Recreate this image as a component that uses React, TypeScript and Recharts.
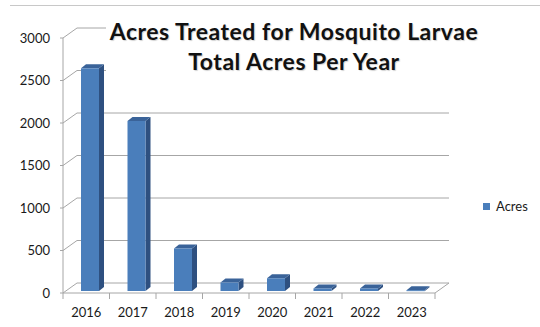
import { BarChart, Bar, XAxis, YAxis, CartesianGrid, Legend } from "recharts";

// Acres treated per year
const years = ["2016", "2017", "2018", "2019", "2020", "2021", "2022", "2023"];
const acres = [2620, 2000, 500, 100, 150, 30, 30, 10];
const yTicks = [0, 500, 1000, 1500, 2000, 2500, 3000];

const data = years.map((year, i) => ({ year, acres: acres[i] }));

const W = 540;
const H = 327;
const margin = { top: 38, right: 105, bottom: 0, left: 0 };
const Y_AXIS_W = 63;
const X_AXIS_H = 34;
const PLOT_BOTTOM = H - margin.bottom - X_AXIS_H;
const PLOT_W = W - margin.right - margin.left - Y_AXIS_W;
const BAND = PLOT_W / years.length;

// depth of the walls / floor
const DX = 14;
const DY = -10;
// bars sit part way into the floor and have their own depth
const BAR_SHIFT_X = 4;
const BAR_SHIFT_Y = -2;
const BAR_DX = 5;
const BAR_DY = -4;

const GRID = "#a6a6a6";
const FRONT = "#4A7EBB";
const SIDE = "#2E5080";
const TOP = "#3A6399";
const FONT = "Lato, 'Open Sans', sans-serif";

const wallLine = (p: any) => {
  const { x1, y1, x2, y2 } = p;
  const isFloor = Math.abs(y1 - PLOT_BOTTOM) < 1;
  return (
    <g key={`wall-${p.index ?? y1}`}>
      <line x1={x1} y1={y1} x2={x1 + DX} y2={y1 + DY} stroke={GRID} />
      <line x1={x1 + DX} y1={y1 + DY} x2={x2 + DX} y2={y2 + DY} stroke={GRID} />
      {isFloor && <line x1={x2} y1={y2} x2={x2 + DX} y2={y2 + DY} stroke={GRID} />}
    </g>
  );
};

const YearTick = (p: any) => {
  const { x, payload, index } = p;
  const last = index === years.length - 1;
  return (
    <g>
      <line x1={x - BAND / 2} y1={PLOT_BOTTOM} x2={x - BAND / 2} y2={PLOT_BOTTOM + 6} stroke={GRID} />
      {last && (
        <line x1={x + BAND / 2} y1={PLOT_BOTTOM} x2={x + BAND / 2} y2={PLOT_BOTTOM + 6} stroke={GRID} />
      )}
      <text x={x} y={PLOT_BOTTOM + 24} textAnchor="middle" fill="#1a1a1a" fontSize={13} fontFamily={FONT}>
        {payload.value}
      </text>
    </g>
  );
};

const Bar3D = (p: any) => {
  const { x, y, width, height } = p;
  if (width == null || height == null) return null;
  const fx = x + BAR_SHIFT_X;
  const fy = y + BAR_SHIFT_Y;
  const h = Math.max(height, 1);
  const side = `${fx + width},${fy} ${fx + width + BAR_DX},${fy + BAR_DY} ${fx + width + BAR_DX},${fy + h + BAR_DY} ${fx + width},${fy + h}`;
  const top = `${fx},${fy} ${fx + BAR_DX},${fy + BAR_DY} ${fx + width + BAR_DX},${fy + BAR_DY} ${fx + width},${fy}`;
  return (
    <g>
      <polygon points={side} fill={SIDE} />
      <polygon points={top} fill={TOP} />
      <rect x={fx} y={fy} width={width} height={h} fill={FRONT} />
    </g>
  );
};

const renderLegend = (props: any) => {
  const item = props.payload?.[0];
  return (
    <div style={{ display: "flex", alignItems: "center", gap: 6, fontFamily: FONT, fontSize: 13, color: "#1a1a1a", lineHeight: "16px" }}>
      <span style={{ display: "inline-block", width: 7, height: 7, background: FRONT }} />
      {item?.value}
    </div>
  );
};

export default function App() {
  return (
    <div style={{ position: "absolute", left: 0, top: 0, width: W, height: H, background: "#fff", overflow: "hidden" }}>
      <div style={{ position: "absolute", left: 10, top: 5, right: 0, borderTop: "1px solid #c8c8c8" }} />
      <BarChart width={W} height={H} data={data} margin={margin} barSize={18}>
        <CartesianGrid horizontal={wallLine} vertical={false} />
        <XAxis
          dataKey="year"
          height={X_AXIS_H}
          axisLine={{ stroke: GRID }}
          tickLine={false}
          tick={<YearTick />}
          interval={0}
        />
        <YAxis
          width={Y_AXIS_W}
          domain={[0, 3000]}
          ticks={yTicks}
          axisLine={{ stroke: GRID }}
          tickLine={{ stroke: GRID }}
          tickSize={3}
          tickMargin={10}
          tick={{ fill: "#1a1a1a", fontSize: 13, fontFamily: FONT }}
        />
        <Legend
          layout="horizontal"
          verticalAlign="middle"
          align="center"
          content={renderLegend}
          wrapperStyle={{ left: 483, top: 198, width: 57 }}
        />
        <Bar dataKey="acres" name="Acres" fill={FRONT} shape={Bar3D} isAnimationActive={false} />
      </BarChart>
      <div
        style={{
          position: "absolute",
          left: 106,
          top: 12,
          width: 376,
          height: 66,
          background: "#fff",
          textAlign: "center",
          fontFamily: FONT,
          fontWeight: 700,
          fontSize: 23,
          letterSpacing: 0.5,
          lineHeight: "30px",
          color: "#111",
          textShadow: "1px 1px 1px rgba(0,0,0,0.18)",
        }}
      >
        <div style={{ marginTop: 4 }}>Acres Treated for Mosquito Larvae</div>
        <div>Total Acres Per Year</div>
      </div>
    </div>
  );
}
